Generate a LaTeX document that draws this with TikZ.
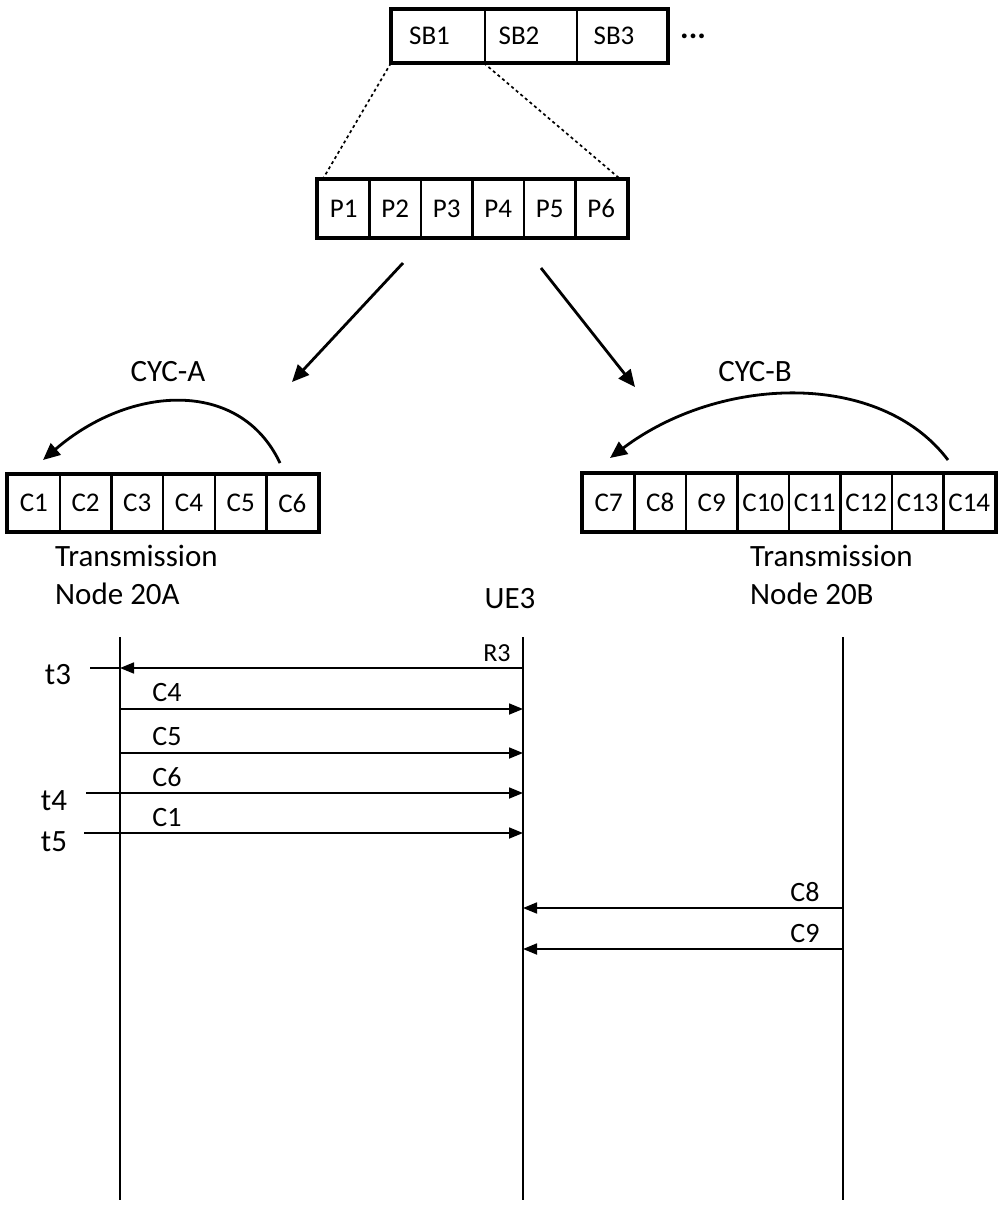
\documentclass[tikz,border=0pt]{standalone}
\usepackage{fontspec}
\setmainfont{Carlito}
\usetikzlibrary{arrows.meta}

\tikzset{
    cell/.style={draw, line width=2.2pt, minimum width=51.5pt, minimum height=57pt,
        inner sep=0pt, font=\fontsize{27}{32}\selectfont},
    frame/.style={line width=3.6pt},
    biglabel/.style={font=\fontsize{31}{38}\selectfont, inner sep=0pt},
    seqlabel/.style={font=\fontsize{28}{32}\selectfont, inner sep=0pt},
    msg/.style={line width=1.7pt, -{Triangle[length=14pt, width=11pt]}},
    bigarrow/.style={line width=2.8pt, -{Triangle[length=17pt, width=15pt]}},
    life/.style={line width=2pt},
}

\begin{document}
\begin{tikzpicture}[x=1pt, y=-1pt]
    \useasboundingbox (0,0) rectangle (997,1205);

    % superframe blocks
    \node[cell, minimum width=93pt, minimum height=52pt] (sb1) at (438.5,36) {SB1\hspace*{18pt}};
    \node[cell, minimum width=92pt, minimum height=52pt] (sb2) at (531,36) {SB2\hspace*{24pt}};
    \node[cell, minimum width=90pt, minimum height=52pt] (sb3) at (622,36) {SB3\hspace*{16pt}};
    \draw[frame] (sb1.north west) rectangle (sb3.south east);
    \node[biglabel, font=\fontsize{32}{36}\selectfont\bfseries, anchor=west] (more) at (680,36) {...};

    % parts P1..P6
    \foreach \i in {1,...,6}
        \node[cell] (p\i) at ({318+51.5*(\i-0.5)},208.5) {P\i};
    \draw[frame] (p1.north west) rectangle (p6.south east);

    % zoom lines
    \draw[line width=1.7pt, dash pattern=on 3pt off 3pt] (sb1.south west) -- ([xshift=6pt]p1.north west);
    \draw[line width=1.7pt, dash pattern=on 3pt off 3pt] (sb2.south west) -- ([xshift=-8pt]p6.north east);

    % mapping arrows
    \coordinate (pa) at (403,263);
    \coordinate (pa-end) at (292,382);
    \coordinate (pb) at (541,268);
    \coordinate (pb-end) at (635,387);
    \draw[bigarrow] (pa) -- (pa-end);
    \draw[bigarrow] (pb) -- (pb-end);

    % cycle A
    \foreach \i in {1,...,6}
        \node[cell, minimum width=51.7pt] (c\i) at ({8+51.7*(\i-0.5)},503) {C\i};
    \draw[frame] (c1.north west) rectangle (c6.south east);
    \node[biglabel] (cyca) at (168,372) {CYC-A};
    \coordinate (cyca-s) at (280,463);
    \coordinate (cyca-e) at (43,460);
    \draw[bigarrow] (cyca-s) .. controls (240,378) and (130,385) .. (cyca-e);

    % cycle B
    \foreach \i in {7,...,14}
        \node[cell] (c\i) at ({583+51.5*(\i-6.5)},502.5) {C\i};
    \draw[frame] (c7.north west) rectangle (c14.south east);
    \node[biglabel] (cycb) at (755,372) {CYC-B};
    \coordinate (cycb-s) at (948,460);
    \coordinate (cycb-e) at (610,458);
    \draw[bigarrow] (cycb-s) .. controls (880,370) and (720,375) .. (cycb-e);

    % entities
    \node[biglabel, align=left, anchor=north west] (nodea) at (55,545) {Transmission\\Node 20A};
    \node[biglabel, align=left, anchor=north west] (nodeb) at (750,545) {Transmission\\Node 20B};
    \node[biglabel] (ue) at (510,599) {UE3};

    % lifelines
    \coordinate (a-top) at (120,637);
    \coordinate (a-bot) at (120,1200);
    \coordinate (ue-top) at (523,637);
    \coordinate (ue-bot) at (523,1200);
    \coordinate (b-top) at (843,637);
    \coordinate (b-bot) at (843,1200);
    \draw[life] (a-top) -- (a-bot);
    \draw[life] (ue-top) -- (ue-bot);
    \draw[life] (b-top) -- (b-bot);

    % request
    \draw[msg] (ue-top |- 0,668) -- (a-top |- 0,668);
    \node[seqlabel, font=\fontsize{26}{30}\selectfont] (r3) at (497,653) {R3};

    % transmissions from node 20A
    \foreach \y/\lab in {709/C4, 753/C5, 793/C6, 833/C1} {
        \draw[msg] (a-top |- 0,\y) -- (ue-top |- 0,\y);
        \node[seqlabel] (m\lab) at (167,\y-16) {\lab};
    }

    % transmissions from node 20B
    \foreach \y/\lab in {908/C8, 949/C9} {
        \draw[msg] (b-top |- 0,\y) -- (ue-top |- 0,\y);
        \node[seqlabel] (m\lab) at (805,\y-16) {\lab};
    }

    % time marks
    \foreach \y/\x/\lab in {668/90/t3, 793/86/t4, 833/84/t5} {
        \coordinate (tick-\lab) at (\x,\y);
        \draw[line width=1.7pt] (tick-\lab) -- (a-top |- 0,\y);
    }
    \node[seqlabel, font=\fontsize{31}{36}\selectfont] (t3) at (58,675) {t3};
    \node[seqlabel, font=\fontsize{31}{36}\selectfont] (t4) at (54,801) {t4};
    \node[seqlabel, font=\fontsize{31}{36}\selectfont] (t5) at (54,842) {t5};
\end{tikzpicture}
\end{document}
